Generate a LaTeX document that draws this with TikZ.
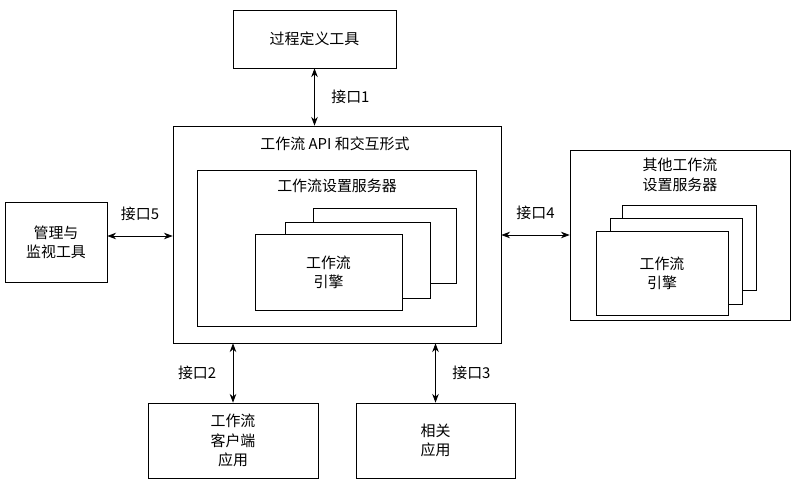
\documentclass[tikz,border=0pt]{standalone}
\usepackage{fontspec}
\newfontfamily\cjk{Noto Sans CJK SC}
\usetikzlibrary{arrows.meta, positioning}
\begin{document}
\begin{tikzpicture}[x=0.02cm, y=-0.02cm,
  box/.style = {draw = black, line width = .4pt, fill = white, font = \cjk\fontsize{8.5}{11}\selectfont, align = center, inner sep = 0pt},
  lbl/.style = {font = \cjk\fontsize{8.5}{11}\selectfont},
  link/.style = {{Stealth[length=5pt]}-{Stealth[length=5pt]}, line width = .5pt}]
\useasboundingbox (0,0) rectangle (800,490);

\node (tool) [box, minimum width = 3.26cm, minimum height = 1.16cm] at (314.5,39) {过程定义工具};

\node (outer) [box, minimum width = 6.56cm, minimum height = 4.34cm] at (337,234.5) {};
\node (api) [lbl] at (335,144) {工作流 API 和交互形式};
\node (inner) [box, minimum width = 5.58cm, minimum height = 3.12cm] at (336.5,248) {};
\node (srv) [lbl] at (337,186) {工作流设置服务器};
\node (eng3) [box, minimum width = 2.86cm, minimum height = 1.5cm] at (384.5,245.5) {};
\node (eng2) [box, minimum width = 2.9cm, minimum height = 1.52cm] at (357.5,260) {};
\node (eng1) [box, minimum width = 2.94cm, minimum height = 1.52cm] at (328.5,272) {工作流\\引擎};

\node (mon) [box, minimum width = 2.04cm, minimum height = 1.6cm] at (56,242) {管理与\\监视工具};

\node (other) [box, minimum width = 4.4cm, minimum height = 3.4cm] at (680,235) {};
\node (osrv) [lbl, align = center] at (680,175) {其他工作流\\设置服务器};
\node (oeng3) [box, minimum width = 2.68cm, minimum height = 1.7cm] at (689,247.5) {};
\node (oeng2) [box, minimum width = 2.64cm, minimum height = 1.72cm] at (676,261) {};
\node (oeng1) [box, minimum width = 2.64cm, minimum height = 1.68cm] at (662,273) {工作流\\引擎};

\node (client) [box, minimum width = 3.4cm, minimum height = 1.5cm] at (233,440.5) {工作流\\客户端\\应用};
\node (rel) [box, minimum width = 3.18cm, minimum height = 1.5cm] at (435.5,440.5) {相关\\应用};

\draw [link] (tool.south) -- (tool.south |- outer.north) node [lbl, midway, right = 6pt] {接口1};
\draw [link] (mon.east |- 0,236) -- (outer.west |- 0,236) node [lbl, midway, above = 5pt] {接口5};
\draw [link] (outer.east |- 0,235) -- (other.west |- 0,235) node [lbl, midway, above = 5pt] {接口4};
\draw [link] (outer.south -| client.north) -- (client.north) node [lbl, midway, left = 6pt] {接口2};
\draw [link] (outer.south -| rel.north) -- (rel.north) node [lbl, midway, right = 6pt] {接口3};

\end{tikzpicture}
\end{document}
